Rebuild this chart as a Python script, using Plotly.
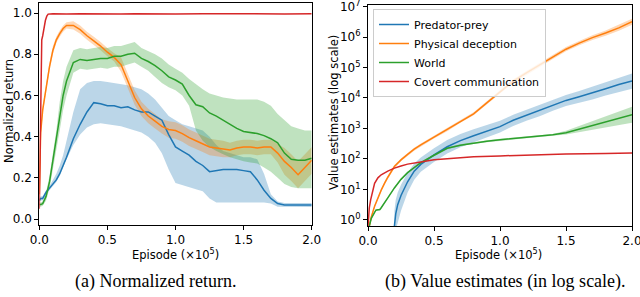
import plotly.graph_objects as go

# ---------------- data: left panel (normalized return) ----------------
X_LEFT = [0, 0.01, 0.025, 0.05, 0.075, 0.1, 0.125, 0.15, 0.175, 0.2,
          0.25, 0.3, 0.35, 0.4, 0.45, 0.5, 0.55, 0.6, 0.65, 0.7,
          0.75, 0.8, 0.85, 0.9, 0.95, 1.0, 1.05, 1.1, 1.15, 1.2,
          1.25, 1.3, 1.35, 1.4, 1.45, 1.5, 1.55, 1.6, 1.65, 1.7,
          1.75, 1.8, 1.85, 1.9, 1.95, 2.0]

PP_RET = [0.09, 0.1, 0.1, 0.13, 0.15, 0.17, 0.19, 0.22, 0.26, 0.3,
          0.39, 0.46, 0.52, 0.565, 0.56, 0.55, 0.55, 0.54, 0.545, 0.53,
          0.52, 0.52, 0.5, 0.48, 0.41, 0.35, 0.33, 0.31, 0.28, 0.26,
          0.23, 0.235, 0.24, 0.24, 0.24, 0.235, 0.23, 0.19, 0.14, 0.1,
          0.075, 0.068, 0.068, 0.07, 0.068, 0.068]
PP_RET_LO = [0.08, 0.09, 0.09, 0.12, 0.14, 0.16, 0.18, 0.21, 0.25, 0.29,
             0.36, 0.41, 0.445, 0.46, 0.465, 0.46, 0.455, 0.45, 0.44, 0.43,
             0.42, 0.4, 0.37, 0.32, 0.24, 0.175, 0.165, 0.155, 0.145, 0.135,
             0.1, 0.08, 0.08, 0.08, 0.08, 0.08, 0.08, 0.08, 0.08, 0.075,
             0.06, 0.058, 0.058, 0.058, 0.058, 0.058]
PP_RET_HI = [0.1, 0.11, 0.11, 0.14, 0.16, 0.19, 0.22, 0.26, 0.31, 0.38,
             0.52, 0.63, 0.66, 0.67, 0.67, 0.665, 0.66, 0.655, 0.65, 0.64,
             0.63, 0.61, 0.58, 0.54, 0.5, 0.48, 0.46, 0.45, 0.44, 0.43,
             0.4, 0.36, 0.33, 0.32, 0.31, 0.3, 0.3, 0.29, 0.22, 0.12,
             0.085, 0.078, 0.078, 0.078, 0.078, 0.078]

PD_RET = [0.12, 0.42, 0.53, 0.64, 0.74, 0.82, 0.87, 0.9, 0.925, 0.94,
          0.94, 0.92, 0.89, 0.865, 0.84, 0.81, 0.785, 0.75, 0.67, 0.59,
          0.535, 0.5, 0.475, 0.45, 0.435, 0.43, 0.415, 0.395, 0.38, 0.365,
          0.35, 0.345, 0.34, 0.335, 0.345, 0.35, 0.35, 0.345, 0.35, 0.35,
          0.32, 0.28, 0.25, 0.215, 0.25, 0.285]
PD_RET_LO = [0.11, 0.4, 0.51, 0.62, 0.72, 0.8, 0.855, 0.885, 0.91, 0.925,
             0.92, 0.9, 0.87, 0.845, 0.82, 0.79, 0.765, 0.715, 0.635, 0.555,
             0.5, 0.465, 0.44, 0.415, 0.395, 0.39, 0.375, 0.355, 0.34, 0.325,
             0.31, 0.305, 0.3, 0.3, 0.31, 0.315, 0.315, 0.31, 0.315, 0.315,
             0.275, 0.215, 0.185, 0.15, 0.185, 0.22]
PD_RET_HI = [0.13, 0.44, 0.55, 0.66, 0.76, 0.84, 0.885, 0.915, 0.94, 0.955,
             0.96, 0.94, 0.91, 0.885, 0.86, 0.83, 0.805, 0.785, 0.705, 0.625,
             0.57, 0.535, 0.51, 0.485, 0.475, 0.47, 0.455, 0.435, 0.42, 0.405,
             0.39, 0.385, 0.38, 0.37, 0.38, 0.385, 0.385, 0.38, 0.385, 0.385,
             0.365, 0.345, 0.315, 0.28, 0.315, 0.35]

WO_RET = [0.07, 0.07, 0.075, 0.11, 0.18, 0.28, 0.38, 0.5, 0.6, 0.67,
          0.76, 0.775, 0.77, 0.775, 0.78, 0.78, 0.79, 0.79, 0.8, 0.805,
          0.78, 0.765, 0.745, 0.72, 0.69, 0.675, 0.655, 0.6, 0.555, 0.545,
          0.515, 0.5, 0.48, 0.46, 0.44, 0.425, 0.42, 0.415, 0.405, 0.39,
          0.37, 0.32, 0.29, 0.285, 0.285, 0.295]
WO_RET_LO = [0.06, 0.06, 0.065, 0.09, 0.15, 0.24, 0.33, 0.43, 0.53, 0.6,
             0.71, 0.73, 0.725, 0.73, 0.735, 0.73, 0.74, 0.74, 0.75, 0.76,
             0.74, 0.72, 0.69, 0.66, 0.64, 0.625, 0.6, 0.55, 0.43, 0.38,
             0.35, 0.33, 0.315, 0.3, 0.29, 0.28, 0.275, 0.27, 0.25, 0.23,
             0.2, 0.17, 0.155, 0.15, 0.15, 0.15]
WO_RET_HI = [0.08, 0.08, 0.085, 0.13, 0.21, 0.32, 0.43, 0.57, 0.67, 0.74,
             0.82, 0.83, 0.825, 0.83, 0.835, 0.83, 0.84, 0.84, 0.85, 0.86,
             0.83, 0.815, 0.8, 0.78, 0.75, 0.73, 0.71, 0.68, 0.655, 0.63,
             0.61, 0.6, 0.59, 0.585, 0.58, 0.58, 0.58, 0.58, 0.57, 0.55,
             0.51, 0.48, 0.45, 0.44, 0.43, 0.43]

X_CC_RET = [0, 0.005, 0.012, 0.018, 0.025, 0.035, 0.045, 0.055, 0.065, 0.1,
            0.2, 0.3, 0.4, 0.5, 0.6, 0.7, 0.8, 0.9, 1.0, 1.2, 1.4, 1.6, 1.8, 2.0]
CC_RET = [0.05, 0.3, 0.7, 0.87, 0.89, 0.93, 0.965, 0.985, 0.995, 0.997,
          0.995, 0.997, 0.996, 0.997, 0.995, 0.997, 0.996, 0.997, 0.996, 0.997,
          0.996, 0.997, 0.996, 0.997]

# ---------------- data: right panel (value estimates) ----------------
X_PP_VAL = [0.2, 0.21, 0.225, 0.25, 0.3, 0.35, 0.4, 0.5, 0.6, 0.7, 0.8, 0.9,
            1.0, 1.1, 1.2, 1.3, 1.4, 1.5, 1.6, 1.7, 1.8, 1.9, 2.0]
PP_VAL = [0.63, 1.58, 3.16, 6.3, 17.8, 39.8, 66, 135, 251, 398, 575, 794,
          1148, 1862, 2692, 3802, 5754, 8318, 10965, 14454, 19953, 27542, 36308]
PP_VAL_HI = [2.0, 4.5, 7.9, 14.1, 35.5, 70.8, 112, 224, 417, 661, 933, 1259,
             1778, 2818, 4074, 5754, 8710, 12589, 16982, 23442, 33113, 46774, 63096]
PP_VAL_LO = [0.32, 0.5, 0.79, 2.0, 7.9, 20.9, 38, 79, 151, 240, 355, 501,
             741, 1202, 1778, 2512, 3802, 5495, 7079, 8913, 12023, 15849, 19953]

X_PD_VAL = [0.01, 0.025, 0.05, 0.075, 0.1, 0.125, 0.15, 0.2, 0.25, 0.3, 0.35, 0.4,
            0.5, 0.6, 0.7, 0.8, 0.9, 1.0, 1.1, 1.2, 1.3, 1.4, 1.5, 1.6, 1.7, 1.8, 1.9, 2.0]
PD_VAL = [0.63, 1.26, 2.8, 5.5, 9.5, 15.8, 25.1, 56.2, 93.3, 141, 209, 288,
          525, 912, 1738, 3020, 6918, 15849, 35481, 66069, 120226, 223872, 398107,
          630957, 954993, 1348963, 1995262, 3162278]
PD_VAL_HI = [0.71, 1.41, 3.1, 6.2, 10.6, 17.7, 28.1, 63, 104, 158, 234, 323,
             588, 1021, 1947, 3382, 7748, 17751, 41513, 77300, 140664, 261930, 465785,
             738220, 1146000, 1646000, 2494000, 3980000]
PD_VAL_LO = [0.56, 1.12, 2.5, 4.9, 8.5, 14.1, 22.4, 50.2, 83.3, 126, 187, 257,
             469, 814, 1552, 2696, 6177, 14151, 30325, 56469, 102757, 191344, 340262,
             539280, 795827, 1106000, 1596000, 2510000]

X_WO_VAL = [0.01, 0.025, 0.05, 0.06, 0.075, 0.09, 0.1, 0.125, 0.15, 0.2, 0.25, 0.3,
            0.35, 0.4, 0.5, 0.6, 0.7, 0.8, 0.9, 1.0, 1.1, 1.2, 1.3, 1.4, 1.5, 1.6,
            1.7, 1.8, 1.9, 2.0]
WO_VAL = [0.63, 1.12, 1.78, 2.09, 2.14, 2.19, 2.51, 3.55, 5.25, 11.2, 21.4, 35.5,
          53.7, 75.9, 132, 224, 282, 331, 380, 427, 468, 513, 562, 617, 724, 955,
          1259, 1660, 2138, 2818]
WO_VAL_HI = [0.67, 1.2, 1.9, 2.24, 2.29, 2.34, 2.69, 3.8, 5.62, 12, 22.9, 38,
             57.5, 81.2, 141, 240, 302, 354, 407, 457, 501, 549, 601, 660, 833, 1203,
             1737, 2507, 3549, 5129]
WO_VAL_LO = [0.59, 1.05, 1.66, 1.95, 2.0, 2.05, 2.35, 3.32, 4.91, 10.5, 20, 33.2,
             50.2, 70.9, 123, 209, 264, 309, 355, 399, 437, 479, 525, 577, 630, 758,
             912, 1099, 1288, 1548]

X_CC_VAL = [0, 0.005, 0.01, 0.02, 0.03, 0.05, 0.075, 0.1, 0.15, 0.2, 0.25, 0.3,
            0.4, 0.5, 0.6, 0.8, 1.0, 1.2, 1.5, 1.8, 2.0]
CC_VAL = [0.63, 1.58, 2.51, 4.57, 7.59, 15.8, 24, 30.2, 39.8, 50.1, 58.9, 67.6,
          79.4, 93.3, 102, 117, 126, 135, 145, 151, 158]

NAMES = ["Predator-prey", "Physical deception", "World", "Covert communication"]
COLORS = ["#1f77b4", "#ff7f0e", "#2ca02c", "#d62728"]
FILLS = ["rgba(31,119,180,0.3)", "rgba(255,127,14,0.3)",
         "rgba(44,160,44,0.3)", "rgba(214,39,40,0.3)"]

X_TICKS = [0.0, 0.5, 1.0, 1.5, 2.0]
RET_TICKS = [0.0, 0.2, 0.4, 0.6, 0.8, 1.0]
VAL_TICKS = [1, 10, 100, 1e3, 1e4, 1e5, 1e6, 1e7]
VAL_TICK_TEXT = ["10<sup>0</sup>", "10<sup>1</sup>", "10<sup>2</sup>", "10<sup>3</sup>",
                 "10<sup>4</sup>", "10<sup>5</sup>", "10<sup>6</sup>", "10<sup>7</sup>"]

W, H = 640, 297
fig = go.Figure()


def band(x, lo, hi, color, xa, ya):
    fig.add_trace(go.Scatter(x=list(x) + list(x)[::-1], y=list(hi) + list(lo)[::-1],
                             fill="toself", fillcolor=color, line=dict(width=0),
                             mode="lines", hoverinfo="skip", showlegend=False,
                             xaxis=xa, yaxis=ya))


def line(x, y, i, xa, ya, legend):
    fig.add_trace(go.Scatter(x=x, y=y, mode="lines", name=NAMES[i],
                             line=dict(color=COLORS[i], width=1.5),
                             showlegend=legend, legendgroup=NAMES[i],
                             xaxis=xa, yaxis=ya))


# left panel
band(X_LEFT, PP_RET_LO, PP_RET_HI, FILLS[0], "x", "y")
band(X_LEFT, PD_RET_LO, PD_RET_HI, FILLS[1], "x", "y")
band(X_LEFT, WO_RET_LO, WO_RET_HI, FILLS[2], "x", "y")
line(X_LEFT, PP_RET, 0, "x", "y", False)
line(X_LEFT, PD_RET, 1, "x", "y", False)
line(X_LEFT, WO_RET, 2, "x", "y", False)
line(X_CC_RET, CC_RET, 3, "x", "y", False)

# right panel
band(X_PP_VAL, PP_VAL_LO, PP_VAL_HI, FILLS[0], "x2", "y2")
band(X_PD_VAL, PD_VAL_LO, PD_VAL_HI, FILLS[1], "x2", "y2")
band(X_WO_VAL, WO_VAL_LO, WO_VAL_HI, FILLS[2], "x2", "y2")
line(X_PP_VAL, PP_VAL, 0, "x2", "y2", True)
line(X_PD_VAL, PD_VAL, 1, "x2", "y2", True)
line(X_WO_VAL, WO_VAL, 2, "x2", "y2", True)
line(X_CC_VAL, CC_VAL, 3, "x2", "y2", True)

tickfont = dict(family="DejaVu Sans", size=12, color="black")
axis_common = dict(showline=True, mirror=True, linecolor="black", linewidth=1,
                   ticks="outside", ticklen=4, tickwidth=1, tickcolor="black",
                   showgrid=False, zeroline=False, tickfont=tickfont,
                   automargin=False, ticklabeloverflow="allow")

fig.update_layout(
    width=W, height=H, margin=dict(l=0, r=0, t=0, b=0, autoexpand=False),
    plot_bgcolor="white", paper_bgcolor="white",
    xaxis=dict(domain=[39.3 / W, 311.7 / W], range=[0, 2], anchor="y",
               tickvals=X_TICKS, tickformat=".1f", **axis_common),
    yaxis=dict(domain=[1 - 225 / H, 1 - 3 / H], range=[-0.029, 1.049], anchor="x",
               tickvals=RET_TICKS, tickformat=".1f", **axis_common),
    xaxis2=dict(domain=[368 / W, 632 / W], range=[0, 2], anchor="y2",
                tickvals=X_TICKS, tickformat=".1f", **axis_common),
    yaxis2=dict(domain=[1 - 226 / H, 1 - 5 / H], type="log", range=[-0.2, 7.05],
                anchor="x2", tickvals=VAL_TICKS, ticktext=VAL_TICK_TEXT, **axis_common),
    legend=dict(x=373 / W, y=1 - 9 / H, xanchor="left", yanchor="top",
                bgcolor="rgba(255,255,255,0.8)", bordercolor="#cccccc", borderwidth=1,
                font=dict(family="DejaVu Sans", size=11, color="black"),
                itemwidth=30, tracegroupgap=0),
    showlegend=True,
)

labfont = dict(family="DejaVu Sans", size=11.5, color="black")
capfont = dict(family="Liberation Serif", size=18, color="black")
ann = [
    dict(x=175.5 / W, y=1 - 254 / H, text="Episode (×10<sup>5</sup>)", font=labfont),
    dict(x=498.5 / W, y=1 - 254 / H, text="Episode (×10<sup>5</sup>)", font=labfont),
    dict(x=9 / W, y=1 - 111 / H, text="Normalized return", textangle=-90, font=labfont),
    dict(x=334 / W, y=1 - 113 / H, text="Value estimates (log scale)", textangle=-90, font=labfont),
    dict(x=155.5 / W, y=1 - 281 / H, text="(a) Normalized return.", font=capfont),
    dict(x=505 / W, y=1 - 281 / H, text="(b) Value estimates (in log scale).", font=capfont),
]
for a in ann:
    fig.add_annotation(xref="paper", yref="paper", showarrow=False,
                       xanchor="center", yanchor="middle", **a)

fig.write_html("out.html", config={"displayModeBar": False},
               post_script="document.body.style.margin='0px';")
